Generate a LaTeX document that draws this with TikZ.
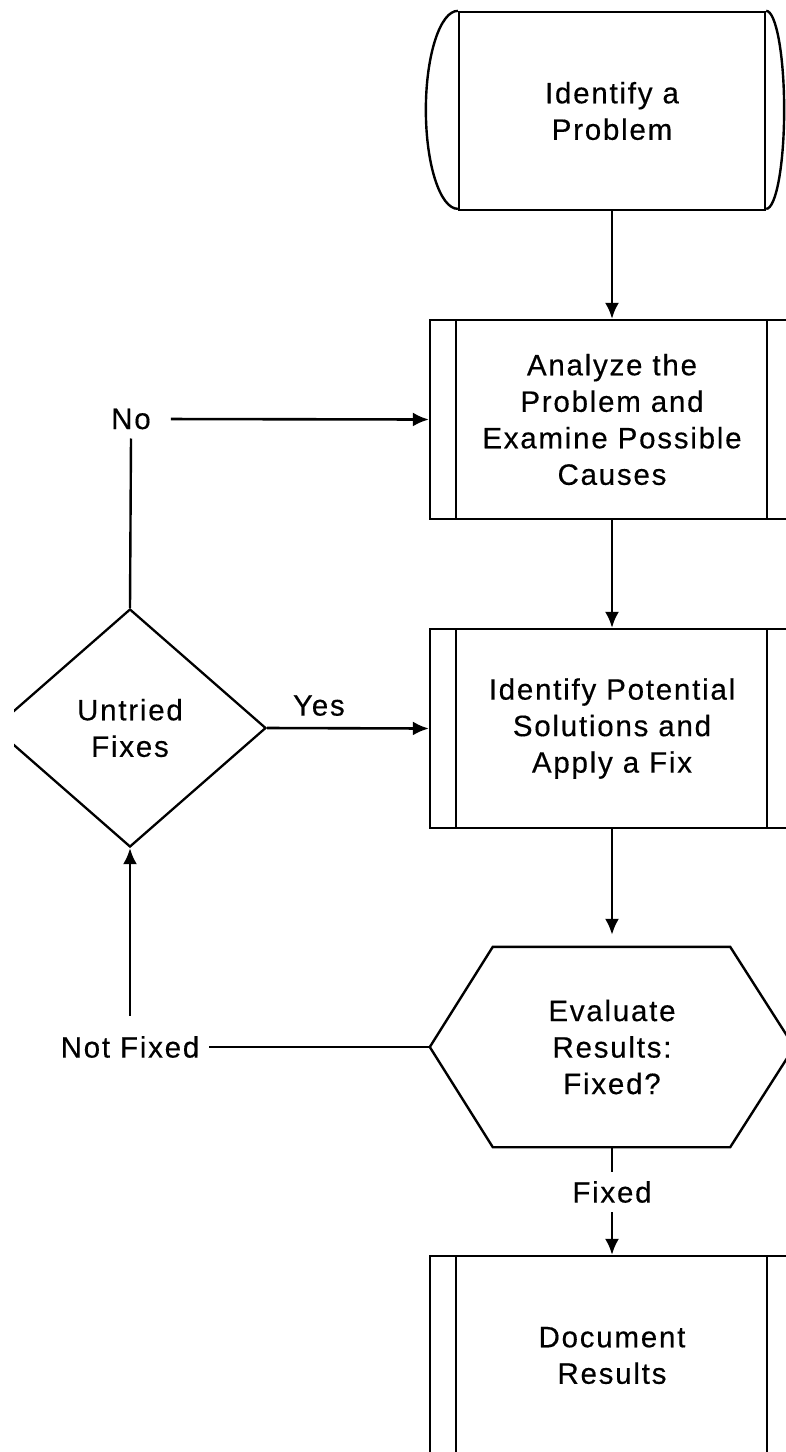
\documentclass[tikz,border=0pt]{standalone}
\usepackage{fontspec}
\setmainfont{Liberation Sans}[LetterSpace=6,FakeBold=0.4]
\usetikzlibrary{shapes.geometric,arrows.meta}
\begin{document}
\begin{tikzpicture}[x=1pt,y=-1pt,
  every node/.style={font=\fontsize{29.5}{36.5}\selectfont, align=center},
  line/.style={line width=2.4pt},
  arr/.style={line width=2.6pt,-{Latex[length=16pt,width=14pt]}},
  proc/.style={draw,line width=2.3pt,minimum width=364pt,minimum height=199pt,inner sep=0pt,
     path picture={\draw[line width=2.3pt] ([xshift=26pt]path picture bounding box.north west) -- ([xshift=26pt]path picture bounding box.south west);
                   \draw[line width=2.3pt] ([xshift=-27pt]path picture bounding box.north east) -- ([xshift=-27pt]path picture bounding box.south east);}},
  lbl/.style={inner sep=9pt}
]
\useasboundingbox (0,0) rectangle (786,1452);
\clip (14,0) rectangle (786,1452);

% terminator
\node[draw,line width=2.3pt,minimum width=306pt,minimum height=198pt,inner sep=0pt] (term) at (612,111) {Identify a\\Problem};
\draw[line] (term.north west) arc[start angle=90,end angle=270,x radius=32pt,y radius=99pt];
\draw[line] (term.north east) arc[start angle=90,end angle=-90,x radius=18pt,y radius=99pt];

% process boxes
\node[proc] (analyze) at (612,419.5) {Analyze the\\Problem and\\Examine Possible\\Causes};
\node[proc] (apply) at (612,728.5) {Identify Potential\\Solutions and\\Apply a Fix};
\node[proc] (doc) at (612,1355.5) {Document\\Results};

% hexagon
\node[minimum width=364pt,minimum height=200pt,inner sep=0pt] (eval) at (612,1047) {Evaluate\\Results:\\Fixed?};
\draw[line] (eval.west) -- ([xshift=63pt]eval.north west) -- ([xshift=-64pt]eval.north east) -- (eval.east)
  -- ([xshift=-64pt]eval.south east) -- ([xshift=63pt]eval.south west) -- cycle;

% decision
\node[draw,diamond,line width=2.3pt,minimum width=272pt,minimum height=238pt,inner sep=0pt] (untried) at (130,728) {Untried\\Fixes};

% labels
\node[lbl] (no) at (131,419) {No};
\node[lbl] (notfixed) at (130,1047) {Not Fixed};
\node[lbl] (fixed) at (612,1192) {Fixed};

% connectors
\draw[arr] (term.south) -- (analyze.north);
\draw[arr] (analyze.south) -- (apply.north);
\draw[arr,shorten >=12pt] (apply.south) -- (eval.north);
\draw[line] (eval.south) -- (fixed.north);
\draw[arr] (fixed.south) -- (doc.north);
\draw[line] (eval.west) -- (notfixed.east);
\draw[arr,shorten <=11pt] (notfixed.north) -- (untried.south);
\draw[line] (untried.north) -- (no.south);
\draw[arr,shorten <=11pt] (no.east) -- (analyze.west);
\draw[arr] (untried.east) -- node[pos=0.32,above,inner sep=11pt]{Yes} (apply.west);
\end{tikzpicture}
\end{document}
